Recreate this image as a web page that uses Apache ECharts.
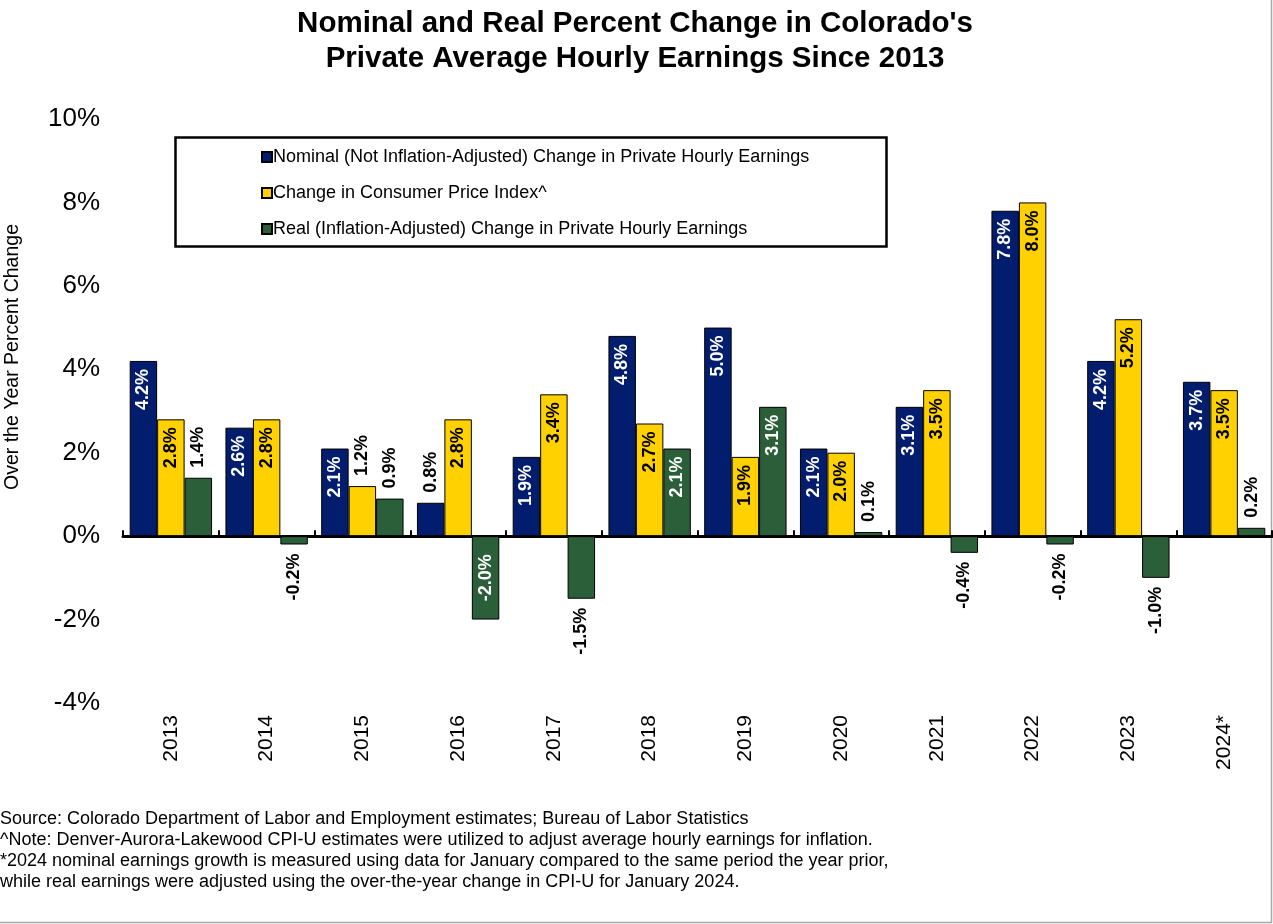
<!DOCTYPE html>
<html>
<head>
<meta charset="utf-8">
<script src="https://cdn.jsdelivr.net/npm/echarts@6/dist/echarts.min.js"></script>
<style>
  html, body { margin: 0; padding: 0; background: #fff; }
  #chart { width: 1273px; height: 924px; }
</style>
</head>
<body>
<div id="chart"></div>
<script>
var years = ['2013', '2014', '2015', '2016', '2017', '2018', '2019', '2020', '2021', '2022', '2023', '2024*'];
var nominal = [4.2, 2.6, 2.1, 0.8, 1.9, 4.8, 5.0, 2.1, 3.1, 7.8, 4.2, 3.7];
var cpi = [2.8, 2.8, 1.2, 2.8, 3.4, 2.7, 1.9, 2.0, 3.5, 8.0, 5.2, 3.5];
var real = [1.4, -0.2, 0.9, -2.0, -1.5, 2.1, 3.1, 0.1, -0.4, -0.2, -1.0, 0.2];

var seriesNames = [
    'Nominal (Not Inflation-Adjusted) Change in Private Hourly Earnings',
    'Change in Consumer Price Index^',
    'Real (Inflation-Adjusted) Change in Private Hourly Earnings'
];

var FONT = '"Liberation Sans", Arial, sans-serif';

// short bars get their label outside, tall ones inside
function makeItems(values, insideColor) {
    return values.map(function (v) {
        var lab = {
            show: true,
            rotate: 90,
            fontFamily: FONT,
            fontSize: 18,
            fontWeight: 'bold',
            verticalAlign: 'middle',
            formatter: v.toFixed(1) + '%'
        };
        if (Math.abs(v) >= 1.6) {
            lab.color = insideColor;
            if (v >= 0) {
                lab.position = 'insideTop';
                lab.align = 'right';
                lab.distance = 8;
            } else {
                lab.position = 'inside';
                lab.align = 'center';
            }
        } else {
            lab.color = '#000';
            if (v >= 0) {
                lab.position = 'top';
                lab.align = 'left';
                lab.distance = 10;
            } else {
                lab.position = 'bottom';
                lab.align = 'right';
                lab.distance = 9;
            }
        }
        return { value: v, label: lab };
    });
}

function barSeries(name, values, color, labelColor) {
    return {
        name: name,
        type: 'bar',
        barGap: '0%',
        barCategoryGap: '14%',
        itemStyle: { color: color, borderColor: '#000', borderWidth: 1 },
        data: makeItems(values, labelColor)
    };
}

var chart = echarts.init(document.getElementById('chart'));
chart.setOption({
    animation: false,
    backgroundColor: '#fff',
    title: {
        text: "Nominal and Real Percent Change in Colorado's\nPrivate Average Hourly Earnings Since 2013",
        left: 630,
        textAlign: 'center',
        top: 1,
        textStyle: { fontFamily: FONT, fontSize: 29.5, fontWeight: 'bold', color: '#000', lineHeight: 35 }
    },
    legend: {
        orient: 'vertical',
        left: 256,
        top: 143,
        itemWidth: 10,
        itemHeight: 10,
        itemGap: 18,
        icon: 'rect',
        textStyle: { fontFamily: FONT, fontSize: 18, color: '#000', padding: [0, 0, 0, -4] },
        data: seriesNames
    },
    grid: { left: 123, right: 1, top: 119, bottom: 221, containLabel: false },
    xAxis: [
        {
            type: 'category',
            data: years,
            axisLine: { onZero: true, lineStyle: { color: '#000', width: 3 } },
            axisTick: { show: true, inside: true, length: 6, lineStyle: { color: '#000', width: 2 } },
            axisLabel: { show: false }
        },
        {
            type: 'category',
            data: years,
            position: 'bottom',
            axisLine: { show: false },
            axisTick: { show: false },
            axisLabel: { rotate: 90, margin: 12, fontFamily: FONT, fontSize: 21, color: '#000' }
        }
    ],
    yAxis: {
        type: 'value',
        min: -4,
        max: 10,
        interval: 2,
        axisLine: { show: false },
        axisTick: { show: false },
        splitLine: { show: false },
        axisLabel: { formatter: '{value}%', margin: 23, fontFamily: FONT, fontSize: 26, color: '#000' }
    },
    graphic: [
        {
            type: 'rect',
            shape: { x: 175.5, y: 137.5, width: 711, height: 109 },
            style: { fill: 'none', stroke: '#000', lineWidth: 2.5 },
            z: 10
        },
        {
            type: 'text',
            x: 13,
            y: 357,
            rotation: Math.PI / 2,
            style: {
                text: 'Over the Year Percent Change',
                fontFamily: FONT, fontSize: 19.5, fill: '#000',
                textAlign: 'center', textVerticalAlign: 'middle'
            }
        },
        {
            type: 'text',
            left: 0,
            top: 809,
            style: {
                text: 'Source: Colorado Department of Labor and Employment estimates; Bureau of Labor Statistics\n' +
                      '^Note: Denver-Aurora-Lakewood CPI-U estimates were utilized to adjust average hourly earnings for inflation.\n' +
                      '*2024 nominal earnings growth is measured using data for January compared to the same period the year prior,\n' +
                      'while real earnings were adjusted using the over-the-year change in CPI-U for January 2024.',
                fontFamily: FONT, fontSize: 18, lineHeight: 21, fill: '#000'
            }
        },
        {
            type: 'line',
            shape: { x1: 1271.5, y1: 0, x2: 1271.5, y2: 923 },
            style: { stroke: '#a8a8a8', lineWidth: 1.5 }
        },
        {
            type: 'line',
            shape: { x1: 0, y1: 922.5, x2: 1272, y2: 922.5 },
            style: { stroke: '#a8a8a8', lineWidth: 1.5 }
        }
    ],
    series: [
        barSeries(seriesNames[0], nominal, '#021C6E', '#fff'),
        barSeries(seriesNames[1], cpi, '#FFD100', '#000'),
        barSeries(seriesNames[2], real, '#2A5F3A', '#fff')
    ]
});
</script>
</body>
</html>
